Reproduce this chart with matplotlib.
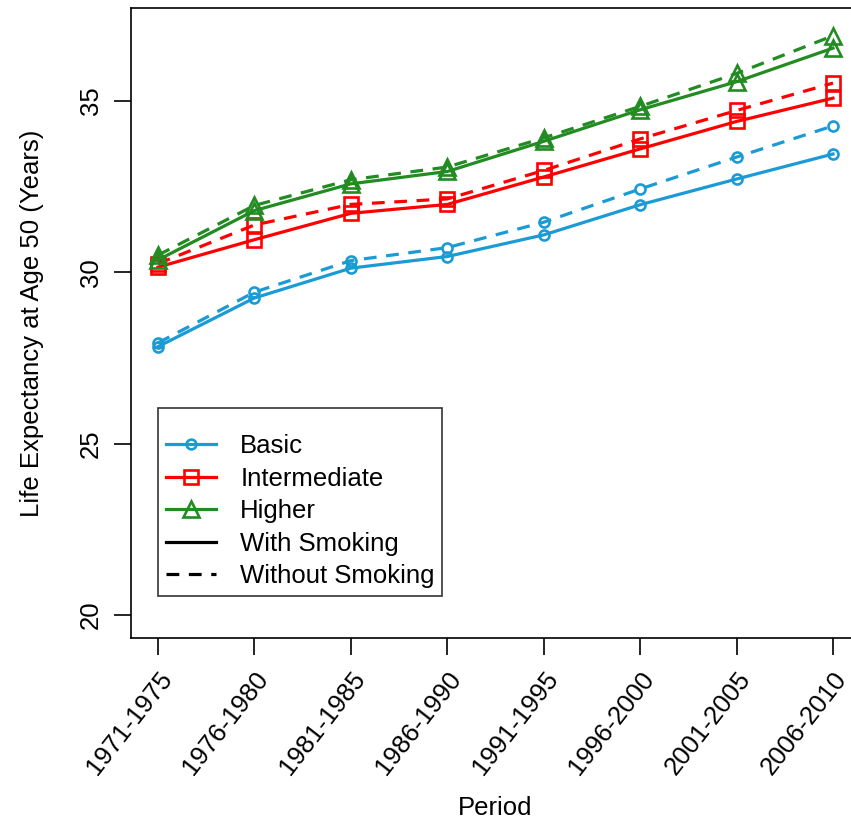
import matplotlib
matplotlib.use("Agg")
import matplotlib.pyplot as plt
from matplotlib.lines import Line2D

plt.rcParams["font.family"] = ["Liberation Sans", "DejaVu Sans"]

periods = ["1971-1975", "1976-1980", "1981-1985", "1986-1990",
           "1991-1995", "1996-2000", "2001-2005", "2006-2010"]

basic_with = [27.83, 29.25, 30.12, 30.46, 31.09, 31.97, 32.72, 33.45]
basic_without = [27.94, 29.42, 30.34, 30.72, 31.46, 32.43, 33.36, 34.27]
inter_with = [30.15, 30.95, 31.72, 31.98, 32.78, 33.60, 34.40, 35.08]
inter_without = [30.25, 31.38, 31.98, 32.14, 32.97, 33.89, 34.72, 35.52]
higher_with = [30.36, 31.80, 32.58, 32.94, 33.82, 34.74, 35.56, 36.54]
higher_without = [30.50, 31.95, 32.70, 33.07, 33.92, 34.84, 35.80, 36.90]

BLUE = "#1a9bd5"
RED = "#ff0000"
GREEN = "#228b22"
FS = 18.5

fig = plt.figure(figsize=(8.51, 8.23), dpi=100)
ax = fig.add_axes([131 / 851, 185 / 823, 729 / 851, 630 / 823])

x = list(range(1, len(periods) + 1))
series = [
    (basic_with, basic_without, BLUE, "o", 7.2),
    (inter_with, inter_without, RED, "s", 9.4),
    (higher_with, higher_without, GREEN, "^", 12),
]
for with_s, without_s, col, mk, ms in series:
    kw = dict(color=col, marker=mk, ms=ms, mfc="none", mec=col, mew=1.9, lw=2.3)
    ax.plot(x, with_s, **kw)
    ax.plot(x, without_s, dashes=(4, 3), **kw)

ax.set_xlim(0.72, 8.28)
ax.set_ylim(19.33, 37.71)
ax.set_yticks([20, 25, 30, 35])
ax.set_xticks(x)
ax.set_xticklabels(periods, rotation=52, ha="right", va="top",
                   rotation_mode="anchor")
for lab in ax.get_yticklabels():
    lab.set_rotation(90)
    lab.set_va("center")
ax.tick_params(labelsize=FS, length=12, width=1.2, direction="out", pad=8)
ax.tick_params(axis="x", pad=9)
for sp in ax.spines.values():
    sp.set_linewidth(1.2)

ax.set_xlabel("Period", fontsize=FS, labelpad=12)
ax.set_ylabel("Life Expectancy at Age 50 (Years)", fontsize=FS, labelpad=25)

handles = [
    Line2D([], [], color=BLUE, marker="o", ms=7, mfc="none", mew=1.9, lw=2.3),
    Line2D([], [], color=RED, marker="s", ms=9.4, mfc="none", mew=1.9, lw=2.3),
    Line2D([], [], color=GREEN, marker="^", ms=11.5, mfc="none", mew=1.9, lw=2.3),
    Line2D([], [], color="black", lw=2.3),
    Line2D([], [], color="black", lw=2.3, dashes=(4, 3)),
]
labels = ["Basic", "Intermediate", "Higher", "With Smoking", "Without Smoking"]
leg = ax.legend(handles, labels, loc="lower left", bbox_to_anchor=(0.037, 0.0667),
                fontsize=FS, frameon=True, fancybox=False, edgecolor="black",
                handlelength=1.95, handletextpad=0.95, borderpad=0.3,
                labelspacing=0.33, borderaxespad=0, numpoints=1,
                title=" ", title_fontsize=8)
leg.get_frame().set_linewidth(1.2)

fig.savefig("out.png", dpi=100)
